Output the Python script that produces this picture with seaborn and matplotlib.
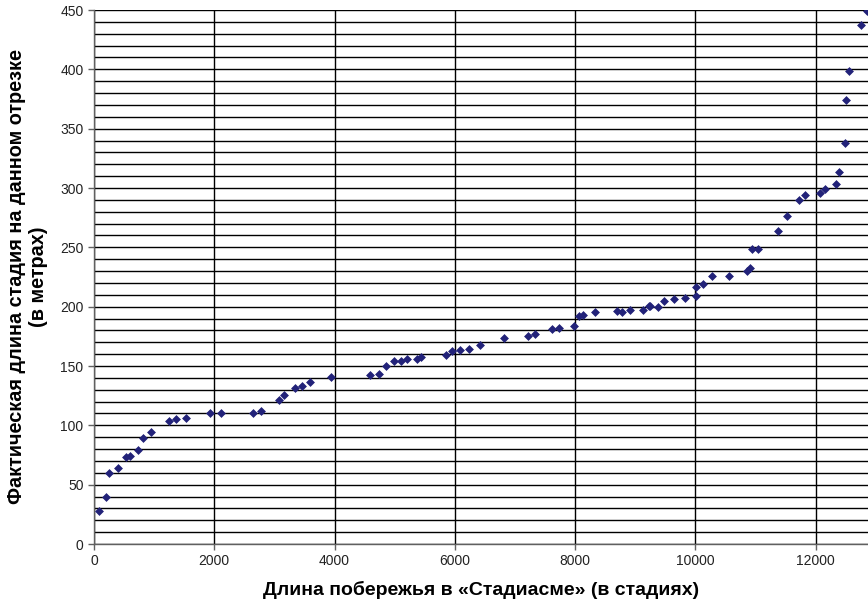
import matplotlib
matplotlib.use('Agg')
import matplotlib.pyplot as plt
import seaborn as sns
import pandas as pd
from matplotlib.ticker import MultipleLocator

# Coastline length in the Stadiasmus (stadia) vs actual stadion length (metres)
stadia = [83, 200, 250, 405, 540, 593, 731, 815, 948, 1252, 1358, 1524,
          1923, 2111, 2649, 2771, 3076, 3164, 3348, 3453, 3586, 3940,
          4589, 4738, 4860, 4993, 5099, 5199, 5365, 5441, 5847, 5952,
          6085, 6239, 6422, 6816, 7210, 7332, 7614, 7725, 7975, 8057,
          8129, 8329, 8689, 8772, 8911, 9127, 9222, 9249, 9382, 9476,
          9643, 9825, 10003, 10013, 10125, 10274, 10563, 10857, 10906,
          10934, 11039, 11377, 11527, 11727, 11820, 12075, 12158, 12330,
          12396, 12485, 12502, 12552, 12757, 12857]
metres = [28, 40, 60, 64, 73.6, 74.4, 79, 89, 94, 103.6, 105, 106.4,
          110, 110.6, 110.6, 112, 121.6, 125.5, 131.4, 132.8, 136.5, 140.7,
          142.6, 143.5, 150.2, 154, 154.5, 155.6, 155.6, 157.3, 159, 162.6,
          163.4, 164, 167.6, 173.5, 175.2, 177.2, 181.4, 182.2, 183.9, 191.8,
          192.7, 195.2, 196, 195.7, 196.8, 197.6, 200.2, 200.2, 199.9, 204.7,
          206.4, 207, 208.7, 216.8, 219, 226, 226, 230.2, 233,
          249, 249, 264, 276, 289.6, 294, 295.7, 299.3, 303,
          313.7, 338, 374, 399, 437, 449]

df = pd.DataFrame({'x': stadia, 'y': metres})

sns.set_style('white')
plt.rcParams['font.family'] = ['Liberation Sans', 'DejaVu Sans']

fig = plt.figure(figsize=(8.68, 6.04), dpi=100)
ax = fig.add_axes([94 / 868, 60 / 604, 1 - 94 / 868, 534 / 604])

sns.scatterplot(data=df, x='x', y='y', marker='D', s=16, color='#222279',
                edgecolor='#222279', linewidth=0.5, ax=ax, zorder=3)

ax.set_xlim(0, 12870)
ax.set_ylim(0, 450)
ax.xaxis.set_major_locator(MultipleLocator(2000))
ax.yaxis.set_major_locator(MultipleLocator(50))
ax.yaxis.set_minor_locator(MultipleLocator(10))

ax.grid(True, which='major', axis='both', color='black', linewidth=1)
ax.grid(True, which='minor', axis='y', color='black', linewidth=1)

for side in ['top', 'right']:
    ax.spines[side].set_visible(False)
for side in ['left', 'bottom']:
    ax.spines[side].set_color('#606060')
    ax.spines[side].set_linewidth(1)

ax.tick_params(axis='both', which='major', length=4, width=1, color='#606060',
               labelsize=10, labelcolor='#222222', direction='out',
               left=True, bottom=True)
ax.tick_params(axis='y', which='minor', length=0)

ax.set_xlabel('Длина побережья в «Стадиасме» (в стадиях)', fontsize=14,
              fontweight='bold', labelpad=9, color='black')
ax.set_ylabel('Фактическая длина стадия на данном отрезке\n(в метрах)',
              fontsize=14.3, fontweight='bold', labelpad=9, color='black')

fig.savefig('out.png', dpi=100)
